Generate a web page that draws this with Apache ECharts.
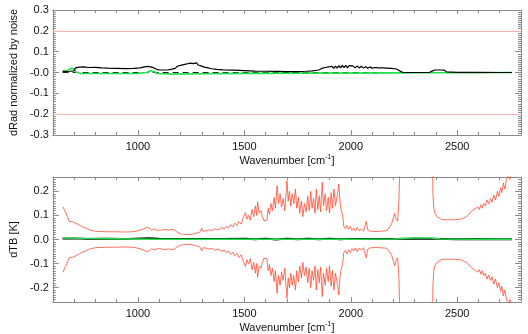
<!DOCTYPE html>
<html>
<head>
<meta charset="utf-8">
<script src="https://cdn.jsdelivr.net/npm/echarts@6/dist/echarts.min.js"></script>
<style>
html,body{margin:0;padding:0;background:#fff;}
#c{width:528px;height:334px;}
</style>
</head>
<body>
<div id="c"></div>
<script>
// ---------- tick definitions ----------
const xMajorTicks = [1000, 1500, 2000, 2500];
const xMinorTicks = [700, 800, 900, 1100, 1200, 1300, 1400, 1600, 1700, 1800, 1900, 2100, 2200, 2300, 2400, 2600, 2700];
const topYTicks = [-0.3, -0.2, -0.1, 0, 0.1, 0.2, 0.3];
const topYTickLabels = ['-0.3', '-0.2', '-0.1', '-0.0', '0.1', '0.2', '0.3'];
const botYTicks = [-0.2, -0.1, 0, 0.1, 0.2];
const botYTickLabels = ['-0.2', '-0.1', '0.0', '0.1', '0.2'];
const topThresholds = [0.2, -0.2];

// ---------- top panel data (wavenumber, dRad/noise) ----------
const topBlack = [
[646,0.004],[680,0.006],[700,0.008],[706,0.022],[712,0.028],[725,0.026],[745,0.027],[770,0.024],[800,0.025],[830,0.022],[860,0.021],[900,0.020],[940,0.019],[980,0.020],[1010,0.022],[1030,0.027],[1045,0.029],[1060,0.027],[1075,0.022],[1090,0.014],[1110,0.012],[1140,0.012],[1160,0.016],[1175,0.020],[1185,0.030],[1192,0.024],[1200,0.034],[1207,0.027],[1215,0.038],[1222,0.030],[1230,0.041],[1237,0.033],[1245,0.045],[1252,0.036],[1260,0.043],[1267,0.034],[1275,0.046],[1282,0.036],[1290,0.044],[1297,0.032],[1305,0.038],[1312,0.026],[1320,0.030],[1330,0.022],[1345,0.018],[1370,0.015],[1400,0.013],[1450,0.011],[1500,0.009],[1550,0.007],[1600,0.006],[1650,0.005],[1700,0.004],[1750,0.004],[1790,0.006],[1820,0.008],[1850,0.012],[1865,0.020],[1872,0.012],[1880,0.024],[1888,0.016],[1896,0.027],[1904,0.018],[1912,0.030],[1920,0.020],[1928,0.031],[1936,0.021],[1944,0.033],[1952,0.022],[1960,0.034],[1968,0.023],[1976,0.034],[1984,0.022],[1992,0.033],[2000,0.024],[2010,0.032],[2020,0.022],[2030,0.031],[2040,0.022],[2050,0.030],[2060,0.021],[2070,0.028],[2080,0.020],[2090,0.027],[2100,0.021],[2115,0.024],[2130,0.022],[2150,0.022],[2170,0.021],[2190,0.020],[2210,0.018],[2225,0.012],[2235,0.004],[2245,0.001],[2300,0.000],[2370,0.001],[2385,0.008],[2395,0.012],[2420,0.012],[2440,0.011],[2450,0.003],[2500,0.001],[2600,0.001],[2700,0.000],[2758,0.000]
];
const topGreen = [
[646,0.009],[670,0.010],[685,0.020],[700,0.018],[708,0.002],[730,-0.004],[800,-0.005],[900,-0.005],[1000,-0.004],[1040,0.000],[1060,0.008],[1075,0.005],[1090,-0.005],[1160,-0.008],[1300,-0.006],[1500,-0.004],[1800,-0.003],[2000,-0.003],[2200,-0.002],[2400,-0.001],[2600,-0.001],[2758,0.000]
];
const topZero = [[646,0],[2758,0]];

// ---------- bottom panel data (wavenumber, dTB [K]) ----------
const botNoise = [
[648,0.136],[655,0.120],[663,0.108],[670,0.090],[678,0.075],[685,0.072],[692,0.074],[700,0.071],[712,0.066],[724,0.060],[740,0.052],[756,0.047],[770,0.040],[785,0.037],[802,0.034],[830,0.033],[860,0.032],[900,0.032],[940,0.031],[970,0.032],[990,0.034],[1005,0.038],[1020,0.042],[1035,0.047],[1046,0.052],[1055,0.046],[1065,0.038],[1075,0.044],[1085,0.040],[1100,0.038],[1115,0.040],[1130,0.042],[1145,0.039],[1160,0.043],[1170,0.040],[1185,0.030],[1200,0.024],[1215,0.021],[1230,0.020],[1250,0.021],[1265,0.024],[1277,0.027],[1290,0.030],[1300,0.047],[1306,0.034],[1320,0.036],[1336,0.040],[1350,0.038],[1362,0.045],[1372,0.040],[1385,0.044],[1395,0.050],[1405,0.043],[1415,0.055],[1425,0.048],[1435,0.062],[1445,0.052],[1455,0.068],[1465,0.058],[1475,0.075],[1485,0.064],[1495,0.090],[1505,0.112],[1512,0.085],[1520,0.100],[1528,0.080],[1536,0.125],[1544,0.095],[1552,0.140],[1558,0.100],[1562,0.157],[1570,0.110],[1578,0.120],[1585,0.095],[1592,0.078],[1600,0.072],[1606,0.080],[1612,0.130],[1618,0.105],[1625,0.150],[1632,0.120],[1640,0.175],[1646,0.130],[1654,0.224],[1660,0.150],[1668,0.190],[1675,0.135],[1682,0.170],[1690,0.120],[1700,0.245],[1706,0.160],[1712,0.200],[1718,0.140],[1725,0.190],[1732,0.150],[1740,0.210],[1746,0.130],[1754,0.175],[1760,0.110],[1768,0.160],[1775,0.095],[1782,0.150],[1790,0.115],[1798,0.180],[1805,0.120],[1812,0.200],[1818,0.130],[1825,0.170],[1832,0.110],[1838,0.210],[1845,0.125],[1852,0.180],[1858,0.115],[1866,0.238],[1872,0.140],[1880,0.190],[1886,0.120],[1894,0.175],[1900,0.110],[1908,0.195],[1914,0.130],[1921,0.210],[1928,0.140],[1936,0.180],[1944,0.231],[1950,0.150],[1956,0.120],[1962,0.100],[1967,0.055],[1975,0.045],[1981,0.060],[1990,0.042],[1998,0.055],[2006,0.038],[2014,0.048],[2022,0.035],[2030,0.050],[2040,0.036],[2050,0.044],[2060,0.034],[2068,0.060],[2073,0.076],[2080,0.040],[2090,0.035],[2105,0.034],[2120,0.033],[2135,0.034],[2150,0.035],[2165,0.036],[2175,0.042],[2183,0.048],[2192,0.065],[2200,0.090],[2206,0.109],[2213,0.085],[2220,0.076],[2226,0.150],[2230,0.300],[2234,0.600],[2240,1.000],[2300,2.000],[2380,1.000],[2384,0.400],[2386,0.200],[2390,0.130],[2395,0.110],[2405,0.095],[2413,0.089],[2427,0.083],[2450,0.082],[2480,0.082],[2500,0.083],[2519,0.085],[2533,0.091],[2545,0.096],[2555,0.105],[2565,0.116],[2572,0.110],[2580,0.125],[2588,0.118],[2597,0.136],[2604,0.125],[2612,0.145],[2618,0.130],[2625,0.150],[2632,0.140],[2640,0.165],[2648,0.148],[2657,0.170],[2664,0.155],[2672,0.185],[2680,0.165],[2689,0.200],[2696,0.180],[2704,0.215],[2710,0.195],[2717,0.235],[2724,0.210],[2732,0.250],[2740,0.270],[2748,0.250],[2758,0.280]
];
const botBlack = [
[646,0.004],[700,0.005],[760,0.003],[850,0.004],[950,0.003],[1050,0.006],[1100,0.004],[1200,0.002],[1300,0.003],[1400,0.002],[1500,0.004],[1550,0.001],[1600,0.004],[1650,0.000],[1700,0.004],[1750,0.001],[1800,0.004],[1850,0.001],[1900,0.004],[1950,0.001],[2000,0.003],[2100,0.002],[2200,0.003],[2300,0.004],[2400,0.003],[2500,0.001],[2600,0.002],[2700,0.001],[2758,0.001]
];
const botGreen = [
[646,0.006],[700,0.005],[800,0.004],[900,0.003],[1000,0.002],[1100,0.001],[1300,0.001],[1600,0.001],[2000,0.001],[2200,0.002],[2260,0.005],[2300,0.006],[2380,0.006],[2420,0.002],[2600,0.001],[2758,0.001]
];

// ---------- build chart ----------
const FONT = 'Liberation Sans';
const AX = '#8a8a8a';
function range(a, b, step) { const r = []; for (let i = 0; Math.round(a*100 + i*step*100) <= Math.round(b*100); i++) r.push(+(a + i*step).toFixed(3)); return r; }
const topYMinor = range(-0.3, 0.3, 0.01);
const botYMinor = range(-0.26, 0.26, 0.01);

const xName = 'Wavenumber [cm{sup|-1}]';
function xAxesFor(g) {
  const base = {type:'value', gridIndex:g, min:600, max:2800, splitLine:{show:false}};
  return [
    Object.assign({}, base, {position:'bottom',
      axisLine:{onZero:false, lineStyle:{color:AX, width:1}},
      axisTick:{inside:true, length:5, customValues:xMajorTicks, lineStyle:{color:AX}},
      axisLabel:{customValues:xMajorTicks, color:'#111', fontSize:11, fontFamily:FONT, margin:6,
        formatter:function(v){ return String(Math.round(v)); }},
      name:xName, nameLocation:'middle', nameGap:19,
      nameTextStyle:{color:'#111', fontSize:11, fontFamily:FONT,
        rich:{sup:{fontSize:7, fontFamily:FONT, color:'#111', verticalAlign:'top', padding:[0,0,6,0]}}}}),
    Object.assign({}, base, {position:'bottom', axisLine:{show:false, onZero:false},
      axisTick:{inside:true, length:3, customValues:xMinorTicks, lineStyle:{color:AX}}, axisLabel:{show:false}}),
    Object.assign({}, base, {position:'top', axisLine:{onZero:false, lineStyle:{color:AX, width:1}},
      axisTick:{inside:true, length:4, customValues:xMajorTicks, lineStyle:{color:AX}}, axisLabel:{show:false}}),
    Object.assign({}, base, {position:'top', axisLine:{show:false, onZero:false},
      axisTick:{inside:true, length:3, customValues:xMinorTicks, lineStyle:{color:AX}}, axisLabel:{show:false}})
  ];
}
function yAxesFor(g, min, max, ticks, labels, minor, name, gap) {
  const base = {type:'value', gridIndex:g, min:min, max:max, splitLine:{show:false}};
  return [
    Object.assign({}, base, {position:'left',
      axisLine:{onZero:false, lineStyle:{color:AX, width:1}},
      axisTick:{inside:true, length:6, customValues:ticks, lineStyle:{color:AX}},
      axisLabel:{customValues:ticks, color:'#111', fontSize:11, fontFamily:FONT, margin:4,
        formatter:function(v){ const i = ticks.findIndex(t => Math.abs(t - v) < 1e-6); return i >= 0 ? labels[i] : ''; }},
      name:name, nameLocation:'middle', nameGap:gap, nameRotate:90,
      nameTextStyle:{color:'#111', fontSize:11, fontFamily:FONT}}),
    Object.assign({}, base, {position:'left', axisLine:{show:false, onZero:false},
      axisTick:{inside:true, length:3, customValues:minor, lineStyle:{color:AX}}, axisLabel:{show:false}}),
    Object.assign({}, base, {position:'right', axisLine:{onZero:false, lineStyle:{color:AX, width:1}},
      axisTick:{inside:true, length:6, customValues:ticks, lineStyle:{color:AX}}, axisLabel:{show:false}}),
    Object.assign({}, base, {position:'right', axisLine:{show:false, onZero:false},
      axisTick:{inside:true, length:3, customValues:minor, lineStyle:{color:AX}}, axisLabel:{show:false}})
  ];
}

const lineBase = {type:'line', showSymbol:false, symbol:'none', animation:false, silent:true, clip:true};
const option = {
  animation:false,
  backgroundColor:'#fff',
  grid:[
    {left:43, right:7, top:10, height:125},
    {left:43, right:7, top:177, height:129}
  ],
  xAxis: xAxesFor(0).concat(xAxesFor(1)),
  yAxis: yAxesFor(0, -0.3, 0.3, topYTicks, topYTickLabels, topYMinor, 'dRad normalized by noise', 30)
    .concat(yAxesFor(1, -0.26, 0.26, botYTicks, botYTickLabels, botYMinor, 'dTB [K]', 30)),
  series:[
    Object.assign({}, lineBase, {xAxisIndex:0, yAxisIndex:0, data:topZero,
      lineStyle:{color:'#222', width:1, type:[6,4]},
      markLine:{silent:true, symbol:'none', label:{show:false},
        lineStyle:{color:'#f4b4a4', width:1, type:'solid'},
        data:topThresholds.map(v => ({yAxis:v}))}}),
    Object.assign({}, lineBase, {xAxisIndex:0, yAxisIndex:0, data:topGreen, lineStyle:{color:'#1fe04a', width:1.6}}),
    Object.assign({}, lineBase, {xAxisIndex:0, yAxisIndex:0, data:topBlack, lineStyle:{color:'#000', width:1.2}}),
    Object.assign({}, lineBase, {xAxisIndex:4, yAxisIndex:4, data:botNoise, lineStyle:{color:'#ff4a30', width:0.8}}),
    Object.assign({}, lineBase, {xAxisIndex:4, yAxisIndex:4, data:botNoise.map(p => [p[0], -p[1]]), lineStyle:{color:'#ff4a30', width:0.8}}),
    Object.assign({}, lineBase, {xAxisIndex:4, yAxisIndex:4, data:botBlack, lineStyle:{color:'#000', width:1.8}}),
    Object.assign({}, lineBase, {xAxisIndex:4, yAxisIndex:4, data:botGreen, lineStyle:{color:'#1fe04a', width:1.4}})
  ]
};
const chart = echarts.init(document.getElementById('c'), null, {renderer:'canvas'});
chart.setOption(option);
</script>
</body>
</html>
